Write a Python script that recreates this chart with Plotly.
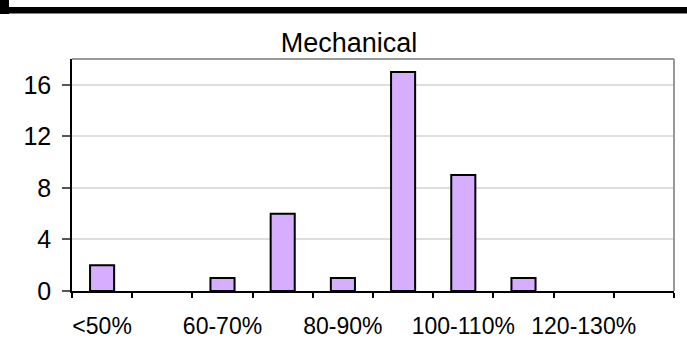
import plotly.graph_objects as go

# Distribution of mechanical results by percentage band
categories = ["<50%", "50-60%", "60-70%", "70-80%", "80-90%",
              "90-100%", "100-110%", "110-120%", "120-130%", ">130%"]
counts = [2, 0, 1, 6, 1, 17, 9, 1, 0, 0]
labelled = ["<50%", "60-70%", "80-90%", "100-110%", "120-130%"]
y_ticks = [0, 4, 8, 12, 16]

W, H = 687, 360
L, R, T, B = 72, 13, 59, 69
pw, ph = W - L - R, H - T - B

def px_x(x):
    return (x - L) / pw

def px_y(y):
    return (H - B - y) / ph

xs = list(range(len(categories)))

# empty bands get no outline so no stub is drawn on the axis
outline = [2 if c > 0 else 0 for c in counts]

fig = go.Figure(go.Bar(
    x=xs, y=counts, width=0.4,
    marker=dict(color="#D7AEFF", line=dict(color="black", width=outline)),
    hoverinfo="skip",
))

font = "Liberation Sans, Arial, sans-serif"

fig.update_layout(
    width=W, height=H,
    margin=dict(l=L, r=R, t=T, b=B),
    paper_bgcolor="white", plot_bgcolor="white",
    showlegend=False,
    title=dict(text="Mechanical", x=px_x(349), xref="paper", xanchor="center",
               y=1 - 43 / H, yref="container", yanchor="middle",
               font=dict(family=font, size=27, color="black")),
    font=dict(family=font, color="black"),
)

fig.update_xaxes(
    range=[-0.5, len(categories) - 0.5],
    tickmode="array",
    tickvals=[categories.index(c) for c in labelled],
    ticktext=labelled,
    ticks="", showgrid=False, zeroline=False,
    showline=True, linecolor="black", linewidth=1.5,
    tickfont=dict(size=23),
    ticklabelstandoff=14,
    minor=dict(tickmode="array",
               tickvals=[i - 0.5 for i in range(len(categories) + 1)],
               ticks="outside", ticklen=5, tickcolor="black", tickwidth=1.5,
               showgrid=False),
)

fig.update_yaxes(
    range=[0, 18],
    tickmode="array", tickvals=y_ticks,
    ticks="outside", ticklen=8, tickcolor="#555", tickwidth=1.5,
    showgrid=True, gridcolor="#dedede", gridwidth=1.5,
    zeroline=False,
    showline=True, linecolor="black", linewidth=1.5,
    tickfont=dict(size=25),
    ticklabelstandoff=6,
)

# gray frame on the top and right of the plot area
fig.add_shape(type="line", xref="paper", yref="paper", x0=0, x1=1, y0=1, y1=1,
              line=dict(color="#999999", width=2))
fig.add_shape(type="line", xref="paper", yref="paper", x0=1, x1=1, y0=0, y1=1,
              line=dict(color="#999999", width=2))

# black header band across the top
fig.add_shape(type="rect", xref="paper", yref="paper",
              x0=px_x(0), x1=px_x(W), y0=px_y(13.5), y1=px_y(7),
              line=dict(width=0), fillcolor="black", layer="above")
fig.add_shape(type="rect", xref="paper", yref="paper",
              x0=px_x(0), x1=px_x(9), y0=px_y(14), y1=px_y(0),
              line=dict(width=0), fillcolor="black", layer="above")

fig.write_html("out.html")
